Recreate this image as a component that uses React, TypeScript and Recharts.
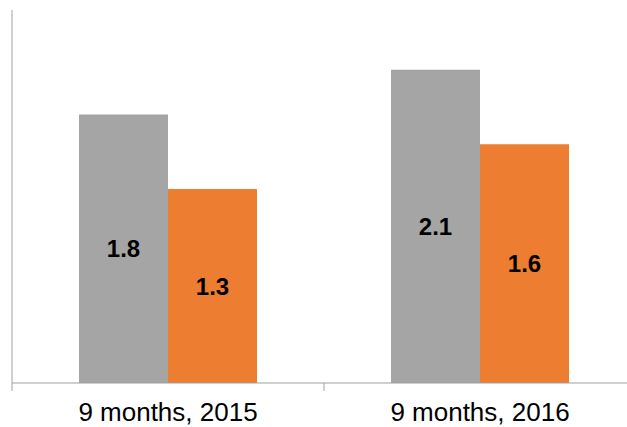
import React from 'react';
import { BarChart, Bar, XAxis, YAxis, LabelList } from 'recharts';

const categories = ['9 months, 2015', '9 months, 2016'];
const grayValues = [1.8, 2.1];
const orangeValues = [1.3, 1.6];

const data = categories.map((name, i) => ({
  name,
  gray: grayValues[i],
  orange: orangeValues[i],
}));

const AXIS = '#A0A0A0';
const FONT = '"Liberation Sans", Arial, sans-serif';
const TICK_SIZE = 8;
const TICK_MARGIN = 12;

// Category label plus tick marks on the band edges
const CategoryTick = (props: any) => {
  const { x, y, payload, index, visibleTicksCount } = props;
  const half = payload && payload.offset ? payload.offset : 0;
  const top = y - TICK_SIZE - TICK_MARGIN;
  const bottom = top + TICK_SIZE;
  return (
    <g>
      <line x1={x - half} x2={x - half} y1={top} y2={bottom} stroke={AXIS} strokeWidth={1} />
      {index === visibleTicksCount - 1 && (
        <line x1={x + half} x2={x + half} y1={top} y2={bottom} stroke={AXIS} strokeWidth={1} />
      )}
      <text
        x={x}
        y={y}
        dy="0.71em"
        textAnchor="middle"
        fill="#000"
        fontSize={26}
        fontFamily={FONT}
      >
        {payload.value}
      </text>
    </g>
  );
};

export default function App() {
  return (
    <div style={{ position: 'absolute', left: 0, top: 0 }}>
      <BarChart
        width={640}
        height={427}
        data={data}
        margin={{ top: 10, right: 4, bottom: 0, left: 11 }}
        barGap={0}
        barSize={89}
      >
        <XAxis
          dataKey="name"
          height={44}
          axisLine={{ stroke: AXIS, strokeWidth: 1 }}
          tickLine={false}
          tickSize={TICK_SIZE}
          tickMargin={TICK_MARGIN}
          tick={CategoryTick}
          interval={0}
        />
        <YAxis
          domain={[0, 2.5]}
          width={1}
          tick={false}
          tickLine={false}
          axisLine={{ stroke: AXIS, strokeWidth: 1 }}
        />
        <Bar dataKey="gray" fill="#A5A5A5" isAnimationActive={false}>
          <LabelList
            dataKey="gray"
            position="center"
            fill="#000"
            style={{ fontSize: 24, fontWeight: 700, fontFamily: FONT }}
          />
        </Bar>
        <Bar dataKey="orange" fill="#ED7D31" isAnimationActive={false}>
          <LabelList
            dataKey="orange"
            position="center"
            fill="#000"
            style={{ fontSize: 24, fontWeight: 700, fontFamily: FONT }}
          />
        </Bar>
      </BarChart>
    </div>
  );
}
